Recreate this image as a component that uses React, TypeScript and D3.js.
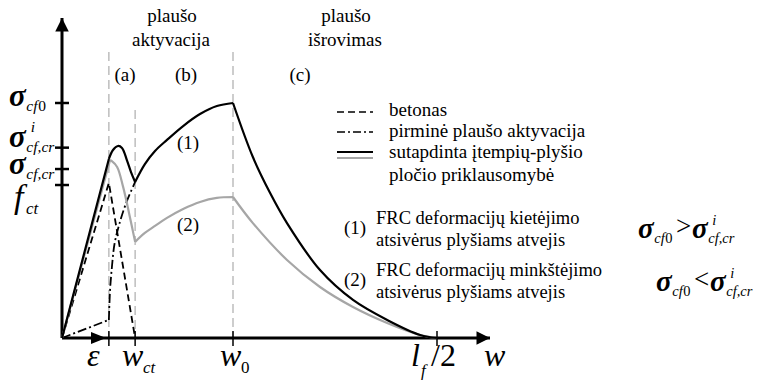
import React from "react";
import * as d3 from "d3";

const W = 759;
const H = 382;
const FONT = "Liberation Serif";

// crack width positions as a fraction of l_f/2: ε, w_ct, w_0, l_f/2
const wTicks = [0.125, 0.195, 0.456, 1];
// stress levels as a fraction of σcf0: σcf0, σ^i_cf,cr, σcf,cr, f_ct
const sTicks = [1, 0.81, 0.719, 0.651];

// plain concrete (dashed)
const concrete: [number, number][] = [[0, 0], [0.125, 0.66], [0.195, 0]];
// initial fibre activation (dash-dot)
const activationLinear: [number, number][] = [[0, 0], [0.125, 0.077]];
const activationRise: [number, number][] = [
  [0.125, 0.077], [0.128, 0.2], [0.133, 0.3], [0.14, 0.4], [0.152, 0.48], [0.17, 0.57], [0.195, 0.664],
];

// (1) strain hardening after cracking (black)
const hardening: [number, number][][] = [
  [[0, 0], [0.125, 0.762]],
  [[0.125, 0.762], [0.136, 0.8], [0.149, 0.817], [0.16, 0.809], [0.173, 0.757], [0.184, 0.706], [0.195, 0.664]],
  [[0.195, 0.664], [0.221, 0.74], [0.248, 0.796], [0.28, 0.843], [0.323, 0.902], [0.368, 0.953], [0.413, 0.987], [0.456, 1.0]],
  [[0.456, 1.0], [0.509, 0.77], [0.555, 0.617], [0.6, 0.489], [0.688, 0.289], [0.776, 0.162], [0.867, 0.077], [0.955, 0.013], [1, 0]],
];

// (2) strain softening after cracking (grey)
const softening: [number, number][][] = [
  [[0, 0], [0.128, 0.757]],
  [[0.128, 0.757], [0.133, 0.753], [0.147, 0.728], [0.163, 0.643], [0.181, 0.515], [0.195, 0.409]],
  [[0.195, 0.409], [0.221, 0.447], [0.248, 0.477], [0.28, 0.511], [0.323, 0.549], [0.368, 0.579], [0.413, 0.596], [0.456, 0.6]],
  [[0.456, 0.6], [0.509, 0.489], [0.6, 0.332], [0.688, 0.217], [0.776, 0.132], [0.867, 0.064], [0.955, 0.013], [1, 0]],
];

const legendItems = ["betonas", "pirminė plaušo aktyvacija", "sutapdinta įtempių-plyšio", "pločio priklausomybė"];
const stageTitles = [["plaušo", "aktyvacija"], ["plaušo", "išrovimas"]];
const stageLetters = ["(a)", "(b)", "(c)"];
const caseLines = [
  ["FRC deformacijų kietėjimo", "atsivėrus plyšiams atvejis"],
  ["FRC deformacijų minkštėjimo", "atsivėrus plyšiams atvejis"],
];

const x = d3.scaleLinear().domain([0, 1]).range([62, 437]);
const y = d3.scaleLinear().domain([0, 1]).range([338, 103]);

const lineLinear = d3.line<[number, number]>().x((d) => x(d[0])).y((d) => y(d[1]));
const lineSmooth = d3
  .line<[number, number]>()
  .x((d) => x(d[0]))
  .y((d) => y(d[1]))
  .curve(d3.curveCatmullRom.alpha(0.5));

function segPath(segs: [number, number][][]) {
  return segs.map((s) => (s.length === 2 ? lineLinear(s) : lineSmooth(s))).join("");
}

type TProps = {
  x: number;
  y: number;
  size: number;
  italic?: boolean;
  bold?: boolean;
  anchor?: "start" | "middle" | "end";
  children: React.ReactNode;
};

function T({ x: tx, y: ty, size, italic, bold, anchor, children }: TProps) {
  return (
    <text
      x={tx}
      y={ty}
      fontSize={size}
      fontStyle={italic ? "italic" : "normal"}
      fontWeight={bold ? "bold" : "normal"}
      textAnchor={anchor ?? "start"}
      fill="#000"
      style={{ fontFamily: FONT }}
    >
      {children}
    </text>
  );
}

// σ with optional superscript and subscript
function Sigma({ x0, y0, size, sup, sub, tail }: { x0: number; y0: number; size: number; sup?: string; sub: string; tail?: string }) {
  const sx = x0 + size * 0.56;
  const subSize = size * 0.5;
  return (
    <g>
      <T x={x0} y={y0} size={size} italic bold>σ</T>
      {sup && (
        <T x={sx + size * 0.14} y={y0 - size * 0.46} size={size * 0.5} italic>{sup}</T>
      )}
      <T x={sx} y={y0 + size * 0.17} size={subSize} italic>{sub}</T>
      {tail && (
        <T x={sx + subSize * 0.76} y={y0 + size * 0.17} size={subSize}>{tail}</T>
      )}
    </g>
  );
}

export default function App() {
  const x0 = x(0);
  const y0 = y(0);
  const guideTop = [52, 110, 52];
  return (
    <svg width={W} height={H} style={{ position: "absolute", left: 0, top: 0, background: "#fff" }}>
      <defs>
        <marker id="arrowHead" viewBox="0 0 10 10" refX="10" refY="5" markerWidth="6" markerHeight="4.5" markerUnits="strokeWidth" orient="auto">
          <path d="M0,0 L10,5 L0,10 z" fill="#000" />
        </marker>
      </defs>

      {/* stage guides */}
      {wTicks.slice(0, 3).map((v, i) => (
        <line key={i} x1={x(v)} x2={x(v)} y1={guideTop[i]} y2={y0} stroke="#b3b3b3" strokeWidth={1.3} strokeDasharray="9,5" />
      ))}

      {/* axes */}
      <line x1={x0} y1={y0} x2={x0} y2={18} stroke="#000" strokeWidth={3} markerEnd="url(#arrowHead)" />
      <line x1={x0} y1={y0} x2={490} y2={y0} stroke="#000" strokeWidth={3} markerEnd="url(#arrowHead)" />
      <path d={`M${x0 + 29},${y0 - 6} L${x0 + 44},${y0} L${x0 + 29},${y0 + 6} z`} fill="#000" />

      {sTicks.map((v, i) => (
        <line key={i} x1={x0 - 7} x2={x0 + 7} y1={y(v)} y2={y(v)} stroke="#000" strokeWidth={2.5} />
      ))}
      {wTicks.map((v, i) => (
        <line key={i} x1={x(v)} x2={x(v)} y1={y0 - 7} y2={y0 + 8} stroke="#000" strokeWidth={1.5} />
      ))}

      {/* curves */}
      <path d={lineLinear(concrete) ?? ""} fill="none" stroke="#000" strokeWidth={1.8} strokeDasharray="7,4" />
      <path d={(lineLinear(activationLinear) ?? "") + (lineSmooth(activationRise) ?? "")} fill="none" stroke="#000" strokeWidth={1.8} strokeDasharray="9,3,2,3" />
      <path d={segPath(softening)} fill="none" stroke="#a6a6a6" strokeWidth={2.2} />
      <path d={segPath(hardening)} fill="none" stroke="#000" strokeWidth={2.2} />

      {/* y labels */}
      <Sigma x0={9} y0={y(sTicks[0]) + 3} size={31} sub="cf" tail="0" />
      <Sigma x0={9} y0={y(sTicks[1]) - 1} size={31} sup="i" sub="cf,cr" />
      <Sigma x0={9} y0={y(sTicks[2]) + 5} size={31} sub="cf,cr" />
      <T x={14} y={y(sTicks[3]) + 23} size={34} italic>f</T>
      <T x={26} y={y(sTicks[3]) + 29} size={17} italic>ct</T>

      {/* x labels */}
      <T x={87} y={366} size={32} italic>ε</T>
      <T x={122} y={366} size={32} italic>w</T>
      <T x={143} y={373} size={17} italic>ct</T>
      <T x={220} y={366} size={32} italic>w</T>
      <T x={241} y={373} size={17}>0</T>
      <T x={411} y={366} size={32} italic>l</T>
      <T x={421} y={376} size={17} italic>f</T>
      <T x={431} y={366} size={32}>/2</T>
      <T x={484} y={366} size={32} italic>w</T>

      {/* stage titles */}
      <T x={172} y={22} size={19} anchor="middle">{stageTitles[0][0]}</T>
      <T x={171} y={46} size={19} anchor="middle">{stageTitles[0][1]}</T>
      <T x={346} y={22} size={19} anchor="middle">{stageTitles[1][0]}</T>
      <T x={345} y={46} size={19} anchor="middle">{stageTitles[1][1]}</T>
      <T x={125} y={81} size={19} anchor="middle">{stageLetters[0]}</T>
      <T x={186} y={81} size={19} anchor="middle">{stageLetters[1]}</T>
      <T x={300} y={81} size={19} anchor="middle">{stageLetters[2]}</T>
      <T x={188} y={149} size={19} anchor="middle">(1)</T>
      <T x={188} y={231} size={19} anchor="middle">(2)</T>

      {/* legend */}
      <line x1={337} x2={373} y1={112} y2={112} stroke="#000" strokeWidth={1.5} strokeDasharray="7,4" />
      <line x1={337} x2={373} y1={132} y2={132} stroke="#000" strokeWidth={1.5} strokeDasharray="8,3,2,3" />
      <line x1={337} x2={373} y1={152} y2={152} stroke="#000" strokeWidth={2} />
      <line x1={337} x2={373} y1={158} y2={158} stroke="#a6a6a6" strokeWidth={2} />
      <T x={389} y={116} size={19}>{legendItems[0]}</T>
      <T x={389} y={137} size={19}>{legendItems[1]}</T>
      <T x={389} y={158} size={19}>{legendItems[2]}</T>
      <T x={389} y={181} size={19}>{legendItems[3]}</T>

      {/* cases */}
      <T x={344} y={234} size={19}>(1)</T>
      <T x={376} y={224} size={18.5}>{caseLines[0][0]}</T>
      <T x={376} y={246} size={18.5}>{caseLines[0][1]}</T>
      <T x={344} y={286} size={19}>(2)</T>
      <T x={376} y={276} size={18.5}>{caseLines[1][0]}</T>
      <T x={376} y={298} size={18.5}>{caseLines[1][1]}</T>

      <Sigma x0={638} y0={238} size={29} sub="cf" tail="0" />
      <T x={676} y={235} size={27}>&gt;</T>
      <Sigma x0={692} y0={238} size={29} sup="i" sub="cf,cr" />
      <Sigma x0={656} y0={291} size={29} sub="cf" tail="0" />
      <T x={694} y={288} size={27}>&lt;</T>
      <Sigma x0={710} y0={291} size={29} sup="i" sub="cf,cr" />
    </svg>
  );
}
